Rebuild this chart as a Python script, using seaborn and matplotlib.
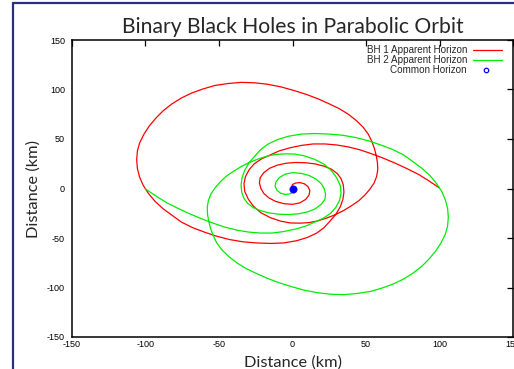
import matplotlib
matplotlib.use("Agg")
import matplotlib.pyplot as plt
import seaborn as sns
from matplotlib.lines import Line2D

sns.set_theme(style="white")
plt.rcParams['font.family'] = ['Liberation Sans', 'DejaVu Sans']

# ---- data (km) ----
bh1_x = [100, 93, 86, 78, 70, 62, 54, 46, 38, 30, 22, 14, 6, -2, -9, -15, -21, -26, -29.5, -32,
         -33, -32.5, -30, -26.5, -21.5, -15, -8, -1.5, 5, 11, 17, 23, 29, 34.5, 40, 45, 49,
         52.5, 55.5, 57.2, 58, 57.8, 57, 55.8, 54, 51.5, 48, 43.5, 38, 32, 25, 17.5, 9.5, 1,
         -8, -17, -26, -35, -44, -53, -61, -68.5, -75.5, -82, -88, -93, -97.5, -101, -104,
         -105.5, -106, -105.5, -104, -101.5, -98, -93.5, -88, -82, -75.5, -68, -60, -52, -43,
         -34, -24.5, -15, -6, 3, 10, 16.5, 21.5, 25.5, 29.5, 32.5, 34.3, 35, 34.5, 33, 30.5,
         26.5, 21.5, 15.5, 9, 2, -4.5, -10.5, -15.5, -19.5, -22, -22.5, -21.5, -19.5, -16,
         -11.5, -6, 0, 5, 9, 11.3, 11.8, 10.5, 8, 5, 2, 0, -0.5, 0]
bh1_y = [0.5, 7.5, 14, 20, 25.5, 30.5, 35, 39, 42, 44, 45, 45, 43.5, 41, 38, 34, 30, 25, 19, 12,
         5, -3, -11, -18, -24.5, -29.5, -33, -34.8, -35, -34.5, -32.8, -30, -26.5, -22.5, -17.5,
         -12.5, -7, -1, 5.5, 12, 19, 26, 33, 40, 47.5, 55, 62, 68.5, 75, 80.5, 85.5, 90.5,
         95, 99, 102.7, 105.3, 106.8, 107.2, 106, 104, 100.5, 96.5, 91.5, 85.5, 78.5, 71, 63,
         55, 46, 38, 29, 20, 11.5, 3, -5, -13, -20.5, -27, -34, -39.5, -44, -48, -51.5, -53.8,
         -55, -55.5, -55, -52.7, -49.5, -45, -39.5, -33, -26, -18.5, -11, -3.5, 4, 10, 15,
         19.5, 22.5, 24.8, 26, 26.3, 25.5, 23.5, 20.5, 16, 11, 5.5, 0, -5, -9.5, -13, -15.3,
         -16, -14.5, -11, -6.5, -2, 2, 4.8, 6, 5.5, 4, 2, 0]
bh2_x = [-100, -93, -86, -78, -70, -62, -54, -46, -38, -30, -22, -14, -6, 2, 9, 15, 21, 26, 29.5, 32,
         33, 32.5, 30, 26.5, 21.5, 15, 8, 1.5, -5, -11, -17, -23, -29, -34.5, -40, -45, -49,
         -52.5, -55.5, -57.2, -58, -57.8, -57, -55.8, -54, -51.5, -48, -43.5, -38, -32, -25, -17.5,
         -9.5, -1, 8, 17, 26, 35, 44, 53, 61, 68.5, 75.5, 82, 88, 93, 97.5, 101, 104,
         105.5, 106, 105.5, 104, 101.5, 98, 93.5, 88, 82, 75.5, 68, 60, 52, 43,
         34, 24.5, 15, 6, -3, -10, -16.5, -21.5, -25.5, -29.5, -32.5, -34.3, -35, -34.5, -33,
         -30.5, -26.5, -21.5, -15.5, -9, -2, 4.5, 10.5, 15.5, 19.5, 22, 22.5, 21.5, 19.5, 16,
         11.5, 6, 0, -5, -9, -11.3, -11.8, -10.5, -8, -5, -2, 0, 0.5, 0]
bh2_y = [-0.5, -7.5, -14, -20, -25.5, -30.5, -35, -39, -42, -44, -45, -45, -43.5, -41, -38, -34,
         -30, -25, -19, -12, -5, 3, 11, 18, 24.5, 29.5, 33, 34.8, 35, 34.5, 32.8, 30, 26.5,
         22.5, 17.5, 12.5, 7, 1, -5.5, -12, -19, -26, -33, -40, -47.5, -55, -62, -68.5, -75,
         -80.5, -85.5, -90.5, -95, -99, -102.7, -105.3, -106.8, -107.2, -106, -104, -100.5,
         -96.5, -91.5, -85.5, -78.5, -71, -63, -55, -46, -38, -29, -20, -11.5, -3, 5, 13, 20.5, 27,
         34, 39.5, 44, 48, 51.5, 53.8, 55, 55.5, 55, 52.7, 49.5, 45, 39.5, 33, 26, 18.5, 11,
         3.5, -4, -10, -15, -19.5, -22.5, -24.8, -26, -26.3, -25.5, -23.5, -20.5, -16, -11,
         -5.5, 0, 5, 9.5, 13, 15.3, 16, 14.5, 11, 6.5, 2, -2, -4.8, -6, -5.5, -4, -2, 0]
common_x = [0.0]
common_y = [0.0]

labels = ["BH 1 Apparent Horizon", "BH 2 Apparent Horizon", "Common Horizon"]
ticks = [-150, -100, -50, 0, 50, 100, 150]

W, H = 514, 369
fig = plt.figure(figsize=(W / 100, H / 100), dpi=100)
ax = fig.add_axes([72 / W, 1 - 337 / H, (513 - 72) / W, (337 - 40) / H])

sns.lineplot(x=bh1_x, y=bh1_y, sort=False, estimator=None, color="#ff0000", lw=0.9, ax=ax)
sns.lineplot(x=bh2_x, y=bh2_y, sort=False, estimator=None, color="#00ee00", lw=0.9, ax=ax)
sns.scatterplot(x=common_x, y=common_y, color="#0000ff", s=28, edgecolor="#0000ff", ax=ax, zorder=5)

ax.set_xlim(-150, 150)
ax.set_ylim(-150, 150)
ax.set_xticks(ticks)
ax.set_yticks(ticks)
ax.set_xticklabels([str(t) for t in ticks])
ax.set_yticklabels([str(t) for t in ticks])
ax.tick_params(direction="in", length=4, width=0.9, top=True, right=True,
               labelsize=6.5, colors="black", pad=2)
ax.tick_params(axis="y", pad=5)
for sp in ax.spines.values():
    sp.set_color("black")
    sp.set_linewidth(1.1)

ax.set_xlabel("Distance (km)", family=["Lato", "DejaVu Sans"], fontsize=11.8, labelpad=4.5)
ax.set_ylabel("Distance (km)", family=["Lato", "DejaVu Sans"], fontsize=11.8, labelpad=4.5)
fig.text(293 / W, 1 - 33 / H, "Binary Black Holes in Parabolic Orbit",
         family=["Lato", "DejaVu Sans"], fontsize=15.2, ha="center", va="baseline")

# legend (text right-aligned, sample to the right)
cols = ["#ff0000", "#00ee00"]
rows_y = [50, 60, 70]
for i, lab in enumerate(labels):
    yf = 1 - rows_y[i] / H
    fig.text(467 / W, yf, lab, fontsize=7.1, ha="right", va="center")
    if i < 2:
        fig.add_artist(Line2D([473 / W, 502 / W], [yf, yf], color=cols[i], lw=0.9))
    else:
        fig.add_artist(Line2D([486 / W], [yf], marker="o", ms=3.2, mfc="none",
                              mec="#0000ff", mew=0.9, color="#0000ff"))

# outer navy frame (cropped)
navy = "#2b2f80"
fig.add_artist(Line2D([13 / W, 13 / W], [0, 1 - 3 / H], color=navy, lw=1.6))
fig.add_artist(Line2D([13 / W, 1], [1 - 3 / H, 1 - 3 / H], color=navy, lw=1.6))

fig.savefig("out.png", dpi=100)
